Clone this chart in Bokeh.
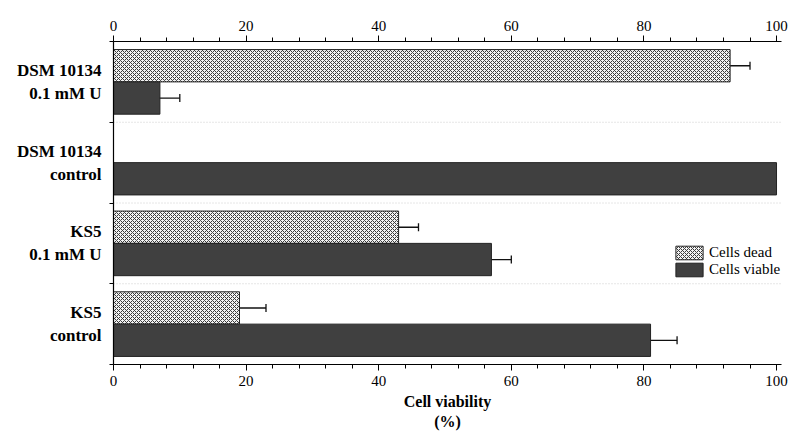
from bokeh.plotting import figure
from bokeh.models import (ColumnDataSource, Range1d, LinearAxis, SingleIntervalTicker,
                          FixedTicker, Whisker, TeeHead, Legend, LegendItem)
from bokeh.embed import file_html
from bokeh.resources import INLINE

# ---- data ----
groups = ["DSM 10134\n0.1 mM U", "DSM 10134\ncontrol", "KS5\n0.1 mM U", "KS5\ncontrol"]
dead = [93, 0, 43, 19]
dead_err = [3, 0, 3, 4]
viable = [7, 100, 57, 81]
viable_err = [3, 0, 3, 4]
x_ticks_major = 20
x_minor = 5

n = len(groups)
centers = [n - 0.5 - i for i in range(n)]

FONT = "Times New Roman"

p = figure(width=790, height=432, output_backend="svg", toolbar_location=None,
           x_range=Range1d(0, 100.75), y_range=Range1d(0, n),
           min_border_left=113, min_border_right=9, min_border_top=41, min_border_bottom=64,
           x_axis_location=None, y_axis_location=None)
p.outline_line_color = None
p.background_fill_color = "white"
p.xgrid.visible = False
p.ygrid.visible = False

dead_src = ColumnDataSource(dict(y=[c + 0.2 for c in centers], right=dead, err=dead_err))
viab_src = ColumnDataSource(dict(y=[c - 0.2 for c in centers], right=viable, err=viable_err))

r_dead = p.hbar(y="y", right="right", left=0, height=0.4, source=dead_src,
                fill_color="#f4f4f4", line_color="#222222", line_width=1,
                hatch_pattern="diagonal_cross", hatch_color="#3a3a3a", hatch_scale=4, hatch_weight=1)
r_viab = p.hbar(y="y", right="right", left=0, height=0.4, source=viab_src,
                fill_color="#404040", line_color="#222222", line_width=1)

# error bars (skip zero-error entries)
for src, vals, errs in [(dead_src, dead, dead_err), (viab_src, viable, viable_err)]:
    ys = [yy for yy, e in zip(src.data["y"], errs) if e > 0]
    lo = [v - e for v, e in zip(vals, errs) if e > 0]
    hi = [v + e for v, e in zip(vals, errs) if e > 0]
    wsrc = ColumnDataSource(dict(base=ys, lower=lo, upper=hi))
    w = Whisker(source=wsrc, base="base", lower="lower", upper="upper", dimension="width",
                line_color="#111111", line_width=1.3,
                lower_head=TeeHead(size=8, line_color="#111111", line_width=1.3),
                upper_head=TeeHead(size=8, line_color="#111111", line_width=1.3))
    p.add_layout(w)

# group separator dotted lines
for b in range(1, n):
    p.line(x=[0, 100.75], y=[b, b], line_color="#cccccc", line_dash="1 2", line_width=1)

def make_xaxis():
    ax = LinearAxis(ticker=SingleIntervalTicker(interval=x_ticks_major, num_minor_ticks=x_minor))
    ax.axis_line_color = "black"
    ax.axis_line_width = 1.2
    ax.major_tick_line_color = "black"
    ax.minor_tick_line_color = "black"
    ax.major_tick_in = 0
    ax.major_tick_out = 6
    ax.minor_tick_in = 0
    ax.minor_tick_out = 4
    ax.major_label_text_font = FONT
    ax.major_label_text_font_size = "15px"
    ax.major_label_text_color = "black"
    ax.major_label_standoff = 5
    return ax

top = make_xaxis()
p.add_layout(top, "above")
bottom = make_xaxis()
bottom.axis_label = "Cell viability\n(%)"
bottom.axis_label_text_font = FONT
bottom.axis_label_text_font_style = "bold"
bottom.axis_label_text_font_size = "16px"
bottom.axis_label_text_color = "black"
bottom.axis_label_standoff = 4
p.add_layout(bottom, "below")

left = LinearAxis(ticker=FixedTicker(ticks=centers, minor_ticks=list(range(n + 1))))
left.major_label_overrides = {c: g for c, g in zip(centers, groups)}
left.major_tick_in = 0
left.major_tick_out = 0
left.minor_tick_in = 0
left.minor_tick_out = 4
left.minor_tick_line_color = "black"
left.axis_line_color = "black"
left.axis_line_width = 1.2
left.major_label_text_font = FONT
left.major_label_text_font_style = "bold"
left.major_label_text_font_size = "17px"
left.major_label_text_color = "black"
left.major_label_standoff = 8
p.add_layout(left, "left")

legend = Legend(items=[LegendItem(label="Cells dead", renderers=[r_dead]),
                       LegendItem(label="Cells viable", renderers=[r_viab])],
                location=(559, 86), padding=0, spacing=0, margin=0,
                glyph_width=34, glyph_height=17, label_standoff=3,
                border_line_color=None, background_fill_alpha=0,
                label_text_font=FONT, label_text_font_size="15px", label_text_color="black")
p.add_layout(legend, "center")

open("out.html", "w").write(file_html(p, INLINE))
